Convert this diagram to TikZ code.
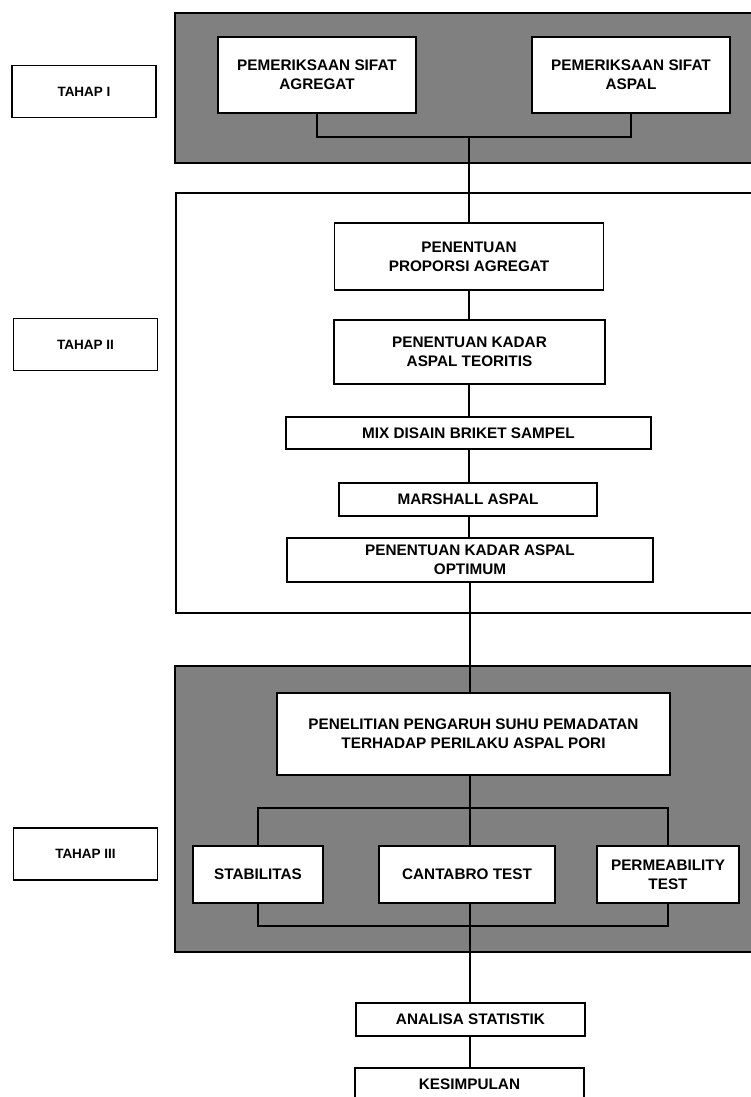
\documentclass[tikz,border=0pt]{standalone}
\usepackage{fontspec}
\setmainfont{Liberation Sans}
\newfontfamily\boxfont{Liberation Sans Bold}
\newfontfamily\labfont{Liberation Sans Bold}
\definecolor{shade}{gray}{0.5}
\begin{document}
\begin{tikzpicture}[x=1pt,y=-1pt,
  stepbox/.style={draw, line width=1.5pt, fill=white, inner sep=0pt, align=center,
    font=\boxfont\fontsize{15.3}{19}\selectfont},
  tahap/.style={draw, line width=1.6pt, fill=white, inner sep=0pt, align=center,
    minimum width=144pt, minimum height=52pt, font=\labfont\fontsize{13.5}{15}\selectfont},
  panel/.style={draw, line width=1.5pt},
  conn/.style={draw, line width=1.2pt}]
\useasboundingbox (0,0) rectangle (750,1097);
% stage panels
\path[panel, fill=shade] (175,13) rectangle (760,163);
\path[panel, fill=white] (176,193) rectangle (760,613);
\path[panel, fill=shade] (175,666) rectangle (760,952);
% stage labels
\node[tahap] (t1) at (84,91.5) {TAHAP I};
\node[tahap] (t2) at (85.5,344.5) {TAHAP II};
\node[tahap] (t3) at (85.5,854) {TAHAP III};
% stage I
\node[stepbox, minimum width=198pt, minimum height=76pt] (agr) at (317,75) {PEMERIKSAAN SIFAT\\AGREGAT};
\node[stepbox, minimum width=198pt, minimum height=76pt] (asp) at (631,75) {PEMERIKSAAN SIFAT\\ASPAL};
% stage II
\node[stepbox, minimum width=269pt, minimum height=67pt] (prop) at (469,256.5) {PENENTUAN\\PROPORSI AGREGAT};
\node[stepbox, minimum width=271pt, minimum height=64pt] (teo) at (469.5,352) {PENENTUAN KADAR\\ASPAL TEORITIS};
\node[stepbox, minimum width=365pt, minimum height=32pt] (mix) at (468.5,433) {MIX DISAIN BRIKET SAMPEL};
\node[stepbox, minimum width=258pt, minimum height=33pt] (mar) at (468,499.5) {MARSHALL ASPAL};
\node[stepbox, minimum width=366pt, minimum height=44pt] (opt) at (470,560) {PENENTUAN KADAR ASPAL\\OPTIMUM};
% stage III
\node[stepbox, minimum width=393pt, minimum height=82pt] (pen) at (473.5,734) {PENELITIAN PENGARUH SUHU PEMADATAN\\TERHADAP PERILAKU ASPAL PORI};
\node[stepbox, minimum width=130pt, minimum height=57pt] (stab) at (258,874.5) {STABILITAS};
\node[stepbox, minimum width=176pt, minimum height=57pt] (cant) at (467,874.5) {CANTABRO TEST};
\node[stepbox, minimum width=142pt, minimum height=57pt] (perm) at (668,874.5) {PERMEABILITY\\TEST};
% final
\node[stepbox, minimum width=229pt, minimum height=33pt] (ana) at (470.5,1019.5) {ANALISA STATISTIK};
\node[stepbox, minimum width=229pt, minimum height=32pt] (kes) at (469.5,1084) {KESIMPULAN};
% connectors
\coordinate (ax) at (469,0);
\coordinate (bx) at (470,0);
\coordinate (j1) at (469,137);
\coordinate (j2) at (470,808);
\coordinate (j3) at (470,926);
\path[conn] (agr.south) -- (agr.south |- j1) -- (asp.south |- j1) -- (asp.south);
\path[conn] (j1) -- (j1 |- prop.north);
\path[conn] (ax |- prop.south) -- (ax |- teo.north);
\path[conn] (ax |- teo.south) -- (ax |- mix.north);
\path[conn] (ax |- mix.south) -- (ax |- mar.north);
\path[conn] (ax |- mar.south) -- (ax |- opt.north);
\path[conn] (bx |- opt.south) -- (bx |- pen.north);
\path[conn] (bx |- pen.south) -- (bx |- cant.north);
\path[conn] (stab.north) -- (stab.north |- j2) -- (perm.north |- j2) -- (perm.north);
\path[conn] (stab.south) -- (stab.south |- j3) -- (perm.south |- j3) -- (perm.south);
\path[conn] (bx |- cant.south) -- (bx |- ana.north);
\path[conn] (bx |- ana.south) -- (bx |- kes.north);
\end{tikzpicture}
\end{document}
